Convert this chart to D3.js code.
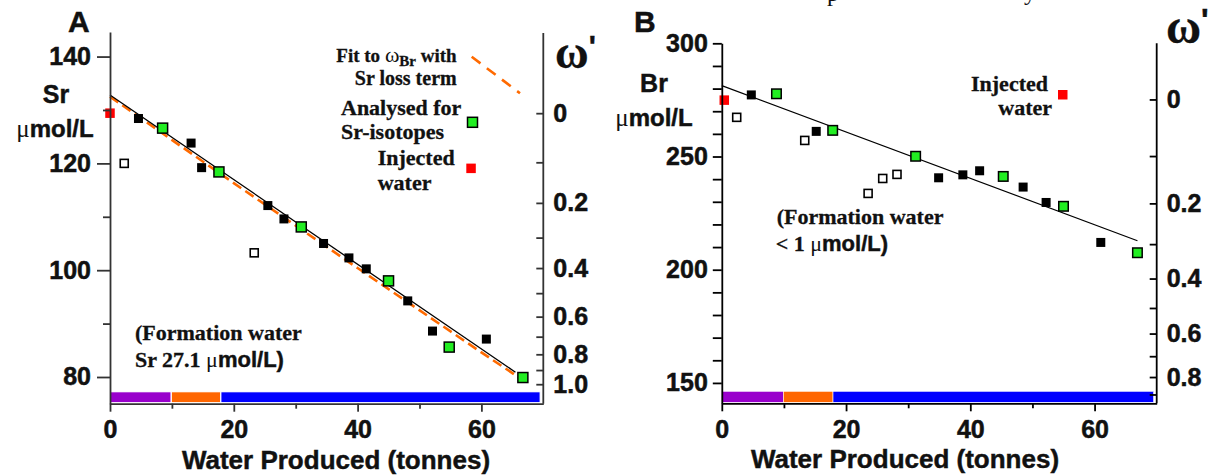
<!DOCTYPE html>
<html>
<head>
<meta charset="utf-8">
<script src="https://cdn.jsdelivr.net/npm/d3@7"></script>
<style>
  body { margin: 0; background: #fff; }
  svg { display: block; }
  .tick text { font-family: "Liberation Sans", Arial, sans-serif; font-weight: bold; font-size: 25px;
               fill: #111; stroke: #111; stroke-width: 0.5px; }
  .heavy { stroke: #111; stroke-width: 0.45px; }
  .heavy-serif { stroke: #111; stroke-width: 0.3px; }
</style>
</head>
<body>
<svg id="chart" width="1217" height="475"></svg>
<script>
// ---------------- data ----------------
const xMajorTicks = [0, 20, 40, 60];
const xMinorTicks = [10, 30, 50];
const phaseBreaks = [0, 9.9, 17.9, 69.5];

const omegaTicks = [0, 0.1, 0.2, 0.3, 0.4, 0.5, 0.6, 0.7, 0.8, 0.9, 1.0];
const omegaLabelled = [0, 0.2, 0.4, 0.6, 0.8, 1.0];

// Panel A: strontium
const srMajorTicks = [80, 100, 120, 140];
const srMinorTicks = [90, 110, 130];
const srAtOmega = [129.4, 120.2, 112.6, 106.1, 100.4, 95.7, 91.3, 87.55, 84.25, 81.3, 78.65];
const srInjected = [[0, 129.4]];
const srSamples = [[4.6, 128.4], [13.1, 123.8], [14.8, 119.2], [25.5, 112.1], [28.1, 109.6],
                   [34.5, 105.0], [38.6, 102.3], [41.4, 100.25], [48.1, 94.25], [52.1, 88.6], [60.8, 87.1]];
const srIsotope = [[8.5, 126.6], [17.6, 118.4], [30.9, 108.1], [45.0, 98.0], [54.8, 85.6], [66.7, 79.9]];
const srOpen = [[2.3, 120.0], [23.3, 103.25]];
const srFit = [[0, 132.8], [65.5, 80.9]];
const srLossFit = [[0, 132.5], [20, 116.3], [40, 100.4], [60, 84.6], [66.6, 79.5]];

// Panel B: bromide
const brMajorTicks = [150, 200, 250, 300];
const brMinorTicks = [160, 170, 180, 190, 210, 220, 230, 240, 260, 270, 280, 290];
const brAtOmega = [275.2, 250.2, 229.3, 211.3, 196.1, 183.1, 171.8, 161.8, 152.6, 144.9];
const brInjected = [[0.4, 274.9]];
const brSamples = [[4.75, 277.2], [15.2, 261.1], [34.9, 240.6], [38.8, 241.9], [41.5, 243.7],
                   [48.5, 236.5], [52.2, 229.7], [61.0, 212.05]];
const brIsotope = [[8.8, 277.7], [17.85, 261.55], [31.2, 250.1], [45.3, 241.2], [55.0, 228.0], [66.9, 207.5]];
const brOpen = [[2.4, 267.3], [13.35, 257.1], [23.55, 233.7], [25.9, 240.3], [28.2, 242.1]];
const brFit = [[0, 281.3], [66.9, 212.8]];

// ---------------- styles ----------------
const SANS = '"Liberation Sans", Arial, sans-serif';
const SERIF = '"Liberation Serif", "Times New Roman", serif';
const phaseColors = ["#9900cc", "#ff6600", "#0000ff"];
const GREEN = "#22ee22", RED = "#ff0000", ORANGE = "#ff6a00";

const svg = d3.select("#chart");
svg.append("rect").attr("width", 1217).attr("height", 475).attr("fill", "#fff");

function squares(g, x, y, data, size, fill, stroke, sw) {
  g.selectAll(null).data(data).enter().append("rect")
    .attr("x", d => x(d[0]) - size / 2)
    .attr("y", d => y(d[1]) - size / 2)
    .attr("width", size).attr("height", size)
    .attr("fill", fill)
    .attr("stroke", stroke || "none")
    .attr("stroke-width", sw || 0);
}

function drawPanel(c) {
  const g = svg.append("g");
  const x = d3.scaleLinear().domain([0, 70]).range([c.x0, c.x1]);
  const y = d3.scaleLinear().domain(c.yDomain).range([c.yBottom, c.yTop]);
  const w = d3.scaleLinear().domain(c.omegaDomain).range(c.omegaRange.map(y));

  // production phase bar along the bottom
  g.selectAll(null).data(d3.pairs(phaseBreaks)).enter().append("rect")
    .attr("x", d => x(d[0]))
    .attr("width", d => x(d[1]) - x(d[0]))
    .attr("y", c.yBottom - 12).attr("height", 11)
    .attr("fill", (d, i) => phaseColors[i])
    .attr("stroke", "#fff").attr("stroke-width", c.phaseGap);

  // fit lines
  const line = d3.line().x(d => x(d[0])).y(d => y(d[1]));
  if (c.lossFit) {
    g.append("path").datum(c.lossFit).attr("d", line)
      .attr("fill", "none").attr("stroke", ORANGE).attr("stroke-width", 2.6)
      .attr("stroke-dasharray", "10,5");
  }
  g.append("path").datum(c.fit).attr("d", line)
    .attr("fill", "none").attr("stroke", "#000").attr("stroke-width", 1.3);

  // samples
  squares(g, x, y, c.open, 8, "#fff", "#000", 1.6);
  squares(g, x, y, c.samples, 9, "#000");
  squares(g, x, y, c.isotope, c.greenSize, GREEN, "#000", 1.5);
  squares(g, x, y, c.injected, 9.5, RED);

  // left axis
  const ax = c.axisColor;
  const left = g.append("g").attr("transform", `translate(${c.x0},0)`);
  left.call(d3.axisLeft(y).tickValues(c.major).tickSize(c.majorTick).tickPadding(c.leftPad)
    .tickSizeOuter(0).tickFormat(d3.format("d")));
  left.append("g").call(d3.axisLeft(y).tickValues(c.minor).tickSize(c.minorTick).tickFormat(""))
    .select(".domain").remove();

  // bottom axis
  const bottom = g.append("g").attr("transform", `translate(0,${c.yBottom})`);
  bottom.call(d3.axisBottom(x).tickValues(xMajorTicks).tickSize(8).tickPadding(8.5)
    .tickSizeOuter(0).tickFormat(d3.format("d")));
  bottom.append("g").call(d3.axisBottom(x).tickValues(xMinorTicks).tickSize(5).tickFormat(""))
    .select(".domain").remove();

  // right axis (omega prime)
  const right = g.append("g").attr("transform", `translate(${c.x1},0)`);
  right.call(d3.axisRight(w).tickValues(c.omegaTicks).tickSizeInner(-7).tickSizeOuter(0)
    .tickPadding(10).tickFormat(d => omegaLabelled.some(v => Math.abs(v - d) < 1e-9) ? (d === 0 ? "0" : d3.format(".1f")(d)) : ""));
  right.select(".domain").remove();
  right.append("line").attr("x1", 0).attr("x2", 0).attr("y1", c.rightTop).attr("y2", c.yBottom);

  g.selectAll(".domain, .tick line, line").attr("stroke", ax).attr("stroke-width", 1.8);
  return { g, x, y };
}

// ---------------- panel A ----------------
drawPanel({
  x0: 110, x1: 543.3, yBottom: 403.7, yTop: 32, yDomain: [75, 144.6], rightTop: 33,
  major: srMajorTicks, minor: srMinorTicks, majorTick: 13, minorTick: 7, leftPad: 6,
  omegaDomain: omegaTicks, omegaRange: srAtOmega, omegaTicks: omegaTicks,
  injected: srInjected, samples: srSamples, isotope: srIsotope, open: srOpen,
  fit: srFit, lossFit: srLossFit, greenSize: 10, axisColor: "#333", phaseGap: 1.2
});

// ---------------- panel B ----------------
drawPanel({
  x0: 721.8, x1: 1156.7, yBottom: 403.3, yTop: 43.3, yDomain: [141, 300], rightTop: 43.3,
  major: brMajorTicks, minor: brMinorTicks, majorTick: 9, minorTick: 9, leftPad: 5,
  omegaDomain: omegaTicks.slice(0, brAtOmega.length), omegaRange: brAtOmega,
  omegaTicks: omegaTicks.slice(0, brAtOmega.length),
  injected: brInjected, samples: brSamples, isotope: brIsotope, open: brOpen,
  fit: brFit, lossFit: null, greenSize: 9.5, axisColor: "#000", phaseGap: 0.6
});

// ---------------- text ----------------
function label(x, y, parts, anchor) {
  const t = svg.append("text").attr("x", x).attr("y", y)
    .attr("text-anchor", anchor || "start").attr("fill", "#111");
  parts.forEach(p => {
    const serif = (p.f || SANS) === SERIF;
    const bold = (p.w || "bold") === "bold";
    const s = t.append("tspan").text(p.t)
      .attr("font-family", p.f || SANS)
      .attr("font-weight", p.w || "bold")
      .attr("font-size", p.s || 25);
    if (bold) s.attr("class", serif ? "heavy-serif" : "heavy");
    if (p.dy) s.attr("dy", p.dy);
  });
  return t;
}

// panel letters
label(68, 32, [{ t: "A", s: 30 }]);
label(634, 32, [{ t: "B", s: 30 }]);

// cut-off caption line above the figure
label(827, 1, [{ t: "p", f: SERIF, w: "normal", s: 24 }]);
label(1024, 0, [{ t: "y", f: SERIF, w: "normal", s: 24 }]);

// y-axis titles
label(56, 103, [{ t: "Sr", s: 25 }], "middle");
label(55, 137, [{ t: "\u03bc", f: SERIF, w: "normal", s: 25 }, { t: "mol/L", s: 24 }], "middle");
label(654, 92, [{ t: "Br", s: 25 }], "middle");
label(654, 126, [{ t: "\u03bc", f: SERIF, w: "normal", s: 25 }, { t: "mol/L", s: 24 }], "middle");

// omega prime axis titles
label(555, 68, [{ t: "\u03c9", f: SERIF, s: 46 }, { t: "'", s: 30, dy: -12 }]);
label(1166, 43, [{ t: "\u03c9", f: SERIF, s: 48 }, { t: "'", s: 32, dy: -12 }]);

// x-axis titles
label(336, 469, [{ t: "Water Produced (tonnes)", s: 26 }], "middle");
label(905, 468, [{ t: "Water Produced (tonnes)", s: 26 }], "middle");

// panel A legend
label(456.7, 62, [{ t: "Fit to ", f: SERIF, s: 19 }, { t: "\u03c9", f: SERIF, w: "normal", s: 22 },
  { t: "Br", f: SERIF, s: 15, dy: 4 }, { t: " with", f: SERIF, s: 19, dy: -4 }], "end");
label(456.7, 85, [{ t: "Sr loss term", f: SERIF, s: 20 }], "end");
svg.append("line").attr("x1", 471.7).attr("y1", 56.7).attr("x2", 520).attr("y2", 93.3)
  .attr("stroke", ORANGE).attr("stroke-width", 2.6).attr("stroke-dasharray", "11,8");
label(341, 114.5, [{ t: "Analysed for", f: SERIF, s: 22 }]);
label(341, 138.5, [{ t: "Sr-isotopes", f: SERIF, s: 22 }]);
svg.append("rect").attr("x", 467.5).attr("y", 117.3).attr("width", 10).attr("height", 10)
  .attr("fill", GREEN).attr("stroke", "#000").attr("stroke-width", 1.5);
label(377.7, 165, [{ t: "Injected", f: SERIF, s: 22 }]);
label(377.7, 190, [{ t: "water", f: SERIF, s: 22 }]);
svg.append("rect").attr("x", 466.3).attr("y", 163.6).attr("width", 9.5).attr("height", 9.5).attr("fill", RED);

// panel A note
label(135, 340, [{ t: "(Formation water", f: SERIF, s: 22 }]);
label(135, 366.5, [{ t: "Sr 27.1 ", f: SERIF, s: 22 }, { t: "\u03bc", f: SERIF, w: "normal", s: 22 },
  { t: "mol/L)", s: 22 }]);

// panel B legend
label(971, 90.7, [{ t: "Injected", f: SERIF, s: 22 }]);
label(998.3, 115, [{ t: "water", f: SERIF, s: 22 }]);
svg.append("rect").attr("x", 1058).attr("y", 90).attr("width", 9.5).attr("height", 9.5).attr("fill", RED);

// panel B note
label(776.7, 224, [{ t: "(Formation water", f: SERIF, s: 22 }]);
label(775.7, 251, [{ t: "< 1 ", f: SERIF, s: 22 }, { t: "\u03bc", f: SERIF, w: "normal", s: 22 },
  { t: "mol/L)", s: 22 }]);
</script>
</body>
</html>
